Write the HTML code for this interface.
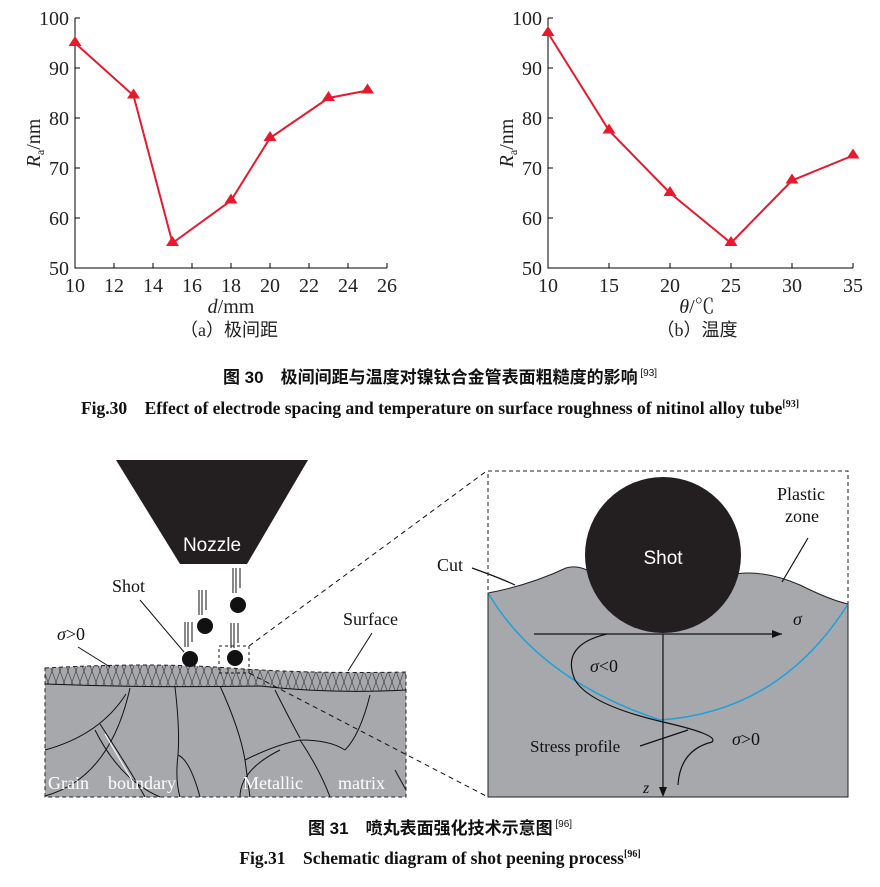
<!DOCTYPE html>
<html><head><meta charset="utf-8"><style>body{margin:0;background:#fff}svg{display:block}</style></head><body>
<svg width="880" height="887" viewBox="0 0 880 887" xmlns="http://www.w3.org/2000/svg" font-family="Liberation Serif, Noto Serif CJK SC, serif">
<defs>
<pattern id="hx" width="8" height="22" patternUnits="userSpaceOnUse"><path d="M0,0 L8,22 M8,0 L0,22" stroke="#333" stroke-width="0.6"/></pattern>
</defs>
<!-- Chart 1 -->
<g stroke="#000" stroke-width="1" fill="none">
<path d="M75,18 V268 H387"/>
<path d="M75,18h5M75,68h5M75,118h5M75,168h5M75,218h5"/>
<path d="M114,268v-5M153,268v-5M192,268v-5M231,268v-5M270,268v-5M309,268v-5M348,268v-5M387,268v-5"/>
</g>
<g font-size="20" fill="#222" text-anchor="end">
<text x="69" y="25">100</text><text x="69" y="75">90</text><text x="69" y="125">80</text><text x="69" y="175">70</text><text x="69" y="225">60</text><text x="69" y="275">50</text>
</g>
<g font-size="20" fill="#222" text-anchor="middle">
<text x="75" y="292">10</text><text x="114" y="292">12</text><text x="153" y="292">14</text><text x="192" y="292">16</text><text x="231" y="292">18</text><text x="270" y="292">20</text><text x="309" y="292">22</text><text x="348" y="292">24</text><text x="387" y="292">26</text>
<text x="231" y="313"><tspan font-style="italic">d</tspan>/mm</text>
</g>
<text transform="translate(40,143) rotate(-90)" font-size="20" fill="#222" text-anchor="middle"><tspan font-style="italic">R</tspan><tspan font-size="12" dy="4">a</tspan><tspan dy="-4">/nm</tspan></text>
<polyline points="75,43 133.5,95.5 172.5,243 231,200.5 270,138 328.5,98 367.5,90.5" fill="none" stroke="#e8192c" stroke-width="2"/>
<g fill="#e8192c">
<path d="M75,36l6.5,10h-13z"/><path d="M133.5,88.5l6.5,10h-13z"/><path d="M172.5,236l6.5,10h-13z"/><path d="M231,193.5l6.5,10h-13z"/><path d="M270,131l6.5,10h-13z"/><path d="M328.5,91l6.5,10h-13z"/><path d="M367.5,83.5l6.5,10h-13z"/>
</g>
<text x="229" y="336" font-size="18" fill="#222" text-anchor="middle" font-family="Liberation Serif, Noto Sans CJK SC, sans-serif">（a）极间距</text>
<!-- Chart 2 -->
<g stroke="#000" stroke-width="1" fill="none">
<path d="M548,18 V268 H853"/>
<path d="M548,18h5M548,68h5M548,118h5M548,168h5M548,218h5"/>
<path d="M609,268v-5M670,268v-5M731,268v-5M792,268v-5M853,268v-5"/>
</g>
<g font-size="20" fill="#222" text-anchor="end">
<text x="542" y="25">100</text><text x="542" y="75">90</text><text x="542" y="125">80</text><text x="542" y="175">70</text><text x="542" y="225">60</text><text x="542" y="275">50</text>
</g>
<g font-size="20" fill="#222" text-anchor="middle">
<text x="548" y="292">10</text><text x="609" y="292">15</text><text x="670" y="292">20</text><text x="731" y="292">25</text><text x="792" y="292">30</text><text x="853" y="292">35</text>
<text x="697" y="313"><tspan font-style="italic">θ</tspan>/℃</text>
</g>
<text transform="translate(513,143) rotate(-90)" font-size="20" fill="#222" text-anchor="middle"><tspan font-style="italic">R</tspan><tspan font-size="12" dy="4">a</tspan><tspan dy="-4">/nm</tspan></text>
<polyline points="548,33 609,130.5 670,193 731,243 792,180.5 853,155.5" fill="none" stroke="#e8192c" stroke-width="2"/>
<g fill="#e8192c">
<path d="M548,26l6.5,10h-13z"/><path d="M609,123.5l6.5,10h-13z"/><path d="M670,186l6.5,10h-13z"/><path d="M731,236l6.5,10h-13z"/><path d="M792,173.5l6.5,10h-13z"/><path d="M853,148.5l6.5,10h-13z"/>
</g>
<text x="697" y="336" font-size="18" fill="#222" text-anchor="middle" font-family="Liberation Serif, Noto Sans CJK SC, sans-serif">（b）温度</text>
<!-- captions -->
<text x="440" y="383" font-size="17" font-weight="bold" fill="#111" text-anchor="middle" font-family="Liberation Sans, Noto Sans CJK SC, sans-serif">图 30　极间间距与温度对镍钛合金管表面粗糙度的影响<tspan font-size="10" dy="-7" font-weight="normal"> [93]</tspan></text>
<text x="440" y="414" font-size="17.5" font-weight="bold" fill="#111" text-anchor="middle">Fig.30　Effect of electrode spacing and temperature on surface roughness of nitinol alloy tube<tspan font-size="10" dy="-7">[93]</tspan></text>
<!-- Left schematic -->
<path d="M116,460 H308 L247,564 H180 Z" fill="#231f20"/>
<text x="212" y="551" font-size="19" fill="#fff" text-anchor="middle" font-family="Liberation Sans, sans-serif">Nozzle</text>
<path d="M45,668 Q150,662 230,668 T406,672 V797 H45 Z" fill="#a7a8ab"/>
<path d="M45,668 Q150,662 230,668 T406,672 V690 Q330,694 260,686 Q150,688 45,684 Z" fill="url(#hx)"/>
<g fill="none" stroke="#111" stroke-width="1">
<path d="M45,684 Q150,688 260,686 Q330,694 406,690"/>
<path d="M45,796 Q110,778 130,688 M45,750 Q100,735 126,694"/>
<path d="M95,730 Q120,780 160,797 M100,724 Q130,770 145,797"/>
<path d="M175,687 Q180,730 178,755 Q190,760 200,797 M178,755 Q175,780 180,797"/>
<path d="M220,686 Q240,730 245,760 L250,797 M245,760 Q275,745 300,740 Q320,770 330,797 M300,740 Q330,740 345,750"/>
<path d="M275,690 Q290,720 300,738 M345,750 Q360,735 370,695"/>
<path d="M280,750 Q240,770 240,797 M395,770 L406,790"/>
</g>
<path d="M105,734 L133,782" stroke="#fff" stroke-width="1"/>
<g fill="#fff" font-size="18"><text x="48" y="789">Grain</text><text x="108" y="789">boundary</text><text x="243" y="789">Metallic</text><text x="338" y="789">matrix</text></g>
<path d="M45,668 Q150,662 230,668 T406,672 V797 H45 Z" fill="none" stroke="#222" stroke-dasharray="4,3"/>
<g fill="#111"><circle cx="190" cy="659" r="8"/><circle cx="235" cy="658" r="8"/><circle cx="205" cy="626" r="8"/><circle cx="238" cy="605" r="8"/></g>
<g stroke="#111" stroke-width="1"><path d="M233,568v25M236,568v25M240,568v20M199,590v25M202,590v25M206,590v20M185,622v25M188,622v25M192,622v20M231,623v25M234,623v25M238,623v20"/></g>
<rect x="219" y="646" width="30" height="27" fill="none" stroke="#111" stroke-dasharray="3,3"/>
<path d="M249,646 L488,470 M249,673 L488,797" stroke="#111" stroke-dasharray="5,4"/>
<text x="112" y="592" font-size="18" fill="#111">Shot</text>
<path d="M140,600 L184,652" stroke="#111"/>
<text x="57" y="640" font-size="18" fill="#111"><tspan font-style="italic">σ</tspan>&gt;0</text>
<path d="M78,647 L110,667" stroke="#111"/>
<text x="343" y="625" font-size="18" fill="#111">Surface</text>
<path d="M372,633 L348,671" stroke="#111"/>
<!-- Right schematic -->
<path d="M488,593 Q530,585 566,568 Q580,564 595,575 L730,575 Q760,568 800,585 Q830,600 848,604 V797 H488 Z" fill="#a7a8ab" stroke="#222" stroke-width="1"/>
<path d="M488,593 Q540,680 660,720 Q780,712 848,604" fill="none" stroke="#1da0dc" stroke-width="1.5"/>
<circle cx="663" cy="555" r="78" fill="#231f20"/>
<text x="663" y="564" font-size="19" fill="#fff" text-anchor="middle" font-family="Liberation Sans, sans-serif">Shot</text>
<g stroke="#111" fill="none" stroke-width="1.2">
<path d="M534,634 H782"/><path d="M663,634 V792"/>
<path d="M607,634 Q560,645 575,680 Q590,705 663,722 Q720,735 712,742 Q680,750 678,785"/>
<path d="M640,746 L688,730"/>
<path d="M808,538 L782,582"/>
<path d="M472,568 Q500,578 515,585"/>
</g>
<path d="M782,634 l-10,-4 v8z M663,797 l-4,-10 h8z" fill="#111"/>
<text x="793" y="625" font-size="18" font-style="italic" fill="#111">σ</text>
<text x="590" y="672" font-size="18" fill="#111"><tspan font-style="italic">σ</tspan>&lt;0</text>
<text x="732" y="745" font-size="18" fill="#111"><tspan font-style="italic">σ</tspan>&gt;0</text>
<text x="530" y="752" font-size="17" fill="#111">Stress profile</text>
<text x="643" y="793" font-size="16" font-style="italic" fill="#111">z</text>
<text x="437" y="571" font-size="18" fill="#111">Cut</text>
<text x="777" y="500" font-size="18" fill="#111">Plastic</text>
<text x="785" y="522" font-size="18" fill="#111">zone</text>
<rect x="488" y="471" width="360" height="326" fill="none" stroke="#222" stroke-dasharray="4,3"/>
<text x="440" y="834" font-size="17" font-weight="bold" fill="#111" text-anchor="middle" font-family="Liberation Sans, Noto Sans CJK SC, sans-serif">图 31　喷丸表面强化技术示意图<tspan font-size="10" dy="-7" font-weight="normal"> [96]</tspan></text>
<text x="440" y="864" font-size="17.5" font-weight="bold" fill="#111" text-anchor="middle">Fig.31　Schematic diagram of shot peening process<tspan font-size="10" dy="-7">[96]</tspan></text>
</svg>
</body></html>
